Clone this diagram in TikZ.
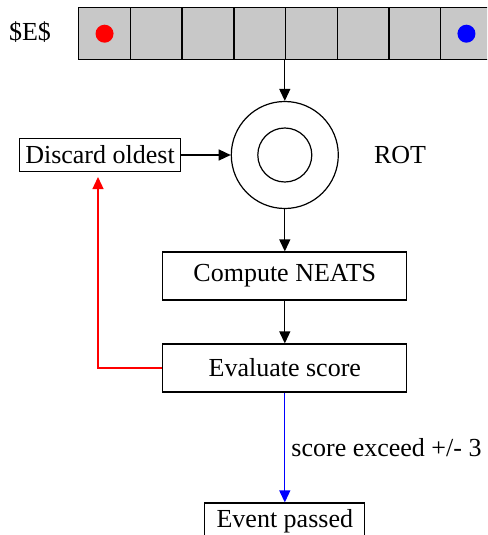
\documentclass[tikz,border=0pt]{standalone}
\usepackage{fontspec}
\setmainfont{Liberation Serif}
\usetikzlibrary{arrows.meta}
\definecolor{cellgray}{RGB}{200,200,200}
\begin{document}
\begin{tikzpicture}[x=1pt,y=-1pt,
  every node/.style={font=\fontsize{26}{30}\selectfont},
  cell/.style={draw,line width=1.4pt,fill=cellgray,minimum width=51.7pt,minimum height=52pt,inner sep=0pt,anchor=north west},
  procbox/.style={draw,line width=1.2pt,inner sep=0pt},
  arr/.style={line width=1.3pt,-{Triangle[length=12pt,width=11pt]}}]
\useasboundingbox (0,0) rectangle (487,535);
\clip (0,0) rectangle (487,535);
\node[inner sep=0pt] (E) at (30,32) {\$E\$};
\foreach \i in {0,...,7} {
  \node[cell] (c\i) at ({78+51.7*\i},7) {};
}
\fill[red] (c0.center) circle (9);
\fill[blue] (c7.center) circle (9);
\coordinate (arrtop) at (284.8,59);
\node[circle,draw,line width=1.2pt,minimum size=107pt,inner sep=0pt] (rot) at (284.8,155) {};
\node[circle,draw,line width=1.2pt,minimum size=54pt,inner sep=0pt] (rotin) at (284.8,155) {};
\node[inner sep=0pt] (rotlbl) at (400,155) {ROT};
\node[procbox,minimum width=161pt,minimum height=33pt] (disc) at (100,155) {Discard oldest};
\node[procbox,minimum width=244pt,minimum height=48pt] (comp) at (284.8,276) {Compute NEATS};
\node[procbox,minimum width=244pt,minimum height=48pt] (eval) at (284.8,368) {Evaluate score};
\node[procbox,minimum width=160pt,minimum height=36pt] (evt) at (284.8,521) {Event passed};
\draw[arr] (arrtop) -- (rot.north);
\draw[arr] (disc.east) -- (rot.west);
\draw[arr] (rot.south) -- (comp.north);
\draw[arr] (comp.south) -- (eval.north);
\coordinate (redtip) at (98,177);
\draw[arr,red] (eval.west) -| (redtip);
\draw[arr,blue] (eval.south) -- node[right,black,inner sep=6pt] {score exceed +/- 3} (evt.north);
\end{tikzpicture}
\end{document}
